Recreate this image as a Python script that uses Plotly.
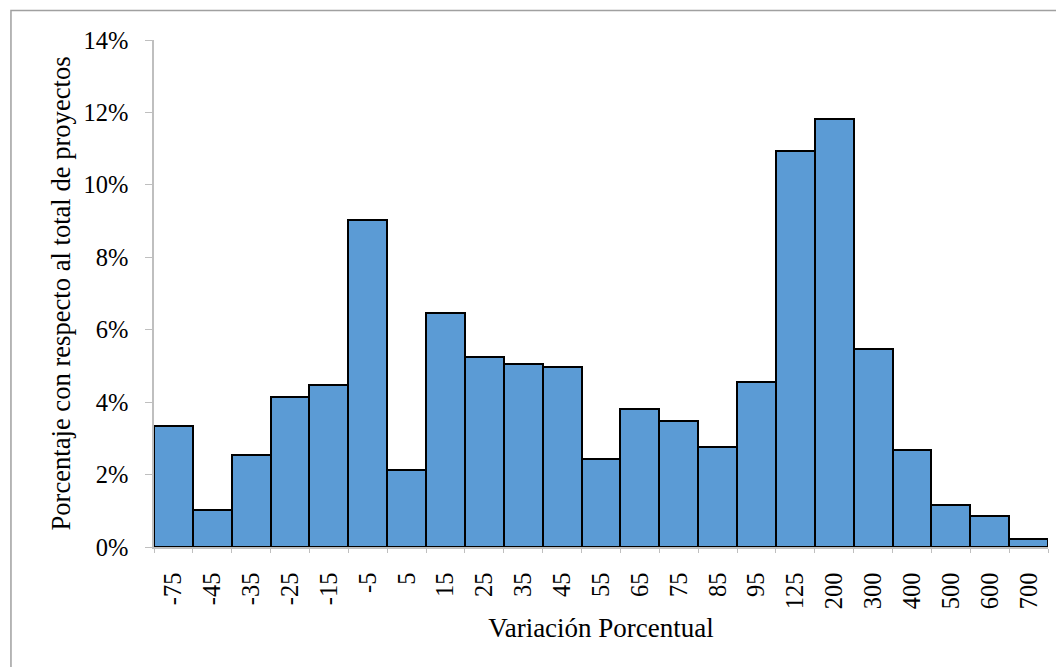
import plotly.graph_objects as go

categories = ["-75", "-45", "-35", "-25", "-15", "-5", "5", "15", "25", "35", "45", "55",
              "65", "75", "85", "95", "125", "200", "300", "400", "500", "600", "700"]
percentages = [3.35, 1.01, 2.55, 4.14, 4.47, 9.02, 2.12, 6.46, 5.24, 5.05, 4.97, 2.43,
               3.82, 3.48, 2.75, 4.56, 10.94, 11.81, 5.48, 2.67, 1.17, 0.85, 0.21]
values = [p / 100 for p in percentages]

x_title = "Variación Porcentual"
y_title = "Porcentaje con respecto al total de proyectos"

FONT = "Liberation Serif, Times New Roman, serif"
AXIS_GRAY = "#bfbfbf"

fig = go.Figure(
    go.Bar(
        x=categories,
        y=values,
        marker=dict(color="#5B9BD5", line=dict(color="black", width=2)),
        hoverinfo="x+y",
    )
)

fig.update_layout(
    width=1056,
    height=659,
    margin=dict(l=146, r=16, t=32, b=120),
    paper_bgcolor="white",
    plot_bgcolor="white",
    bargap=0,
    showlegend=False,
    font=dict(family=FONT, size=24, color="black"),
    xaxis=dict(
        type="category",
        tickangle=-90,
        showline=True,
        linecolor=AXIS_GRAY,
        linewidth=1.5,
        ticks="outside",
        tickson="boundaries",
        ticklen=4,
        tickcolor=AXIS_GRAY,
        showgrid=False,
        ticklabelstandoff=14,
        tickfont=dict(family=FONT, size=24.5),
        title=dict(text=x_title, font=dict(family=FONT, size=27), standoff=10),
        automargin=False,
    ),
    yaxis=dict(
        range=[0, 0.14],
        dtick=0.02,
        tickformat=".0%",
        showline=True,
        linecolor=AXIS_GRAY,
        linewidth=1.5,
        ticks="outside",
        ticklen=7,
        tickcolor=AXIS_GRAY,
        showgrid=False,
        zeroline=False,
        ticklabelstandoff=12,
        tickfont=dict(family=FONT, size=24.5),
        title=dict(text=y_title, font=dict(family=FONT, size=26.6), standoff=5),
        automargin=False,
    ),
    shapes=[
        dict(
            type="path",
            xref="paper",
            yref="paper",
            path="M -0.16 -0.4 L -0.16 1.058 L 1.2 1.058",
            line=dict(color="#a0a0a0", width=1.5),
        )
    ],
)

fig.write_html("out.html")
